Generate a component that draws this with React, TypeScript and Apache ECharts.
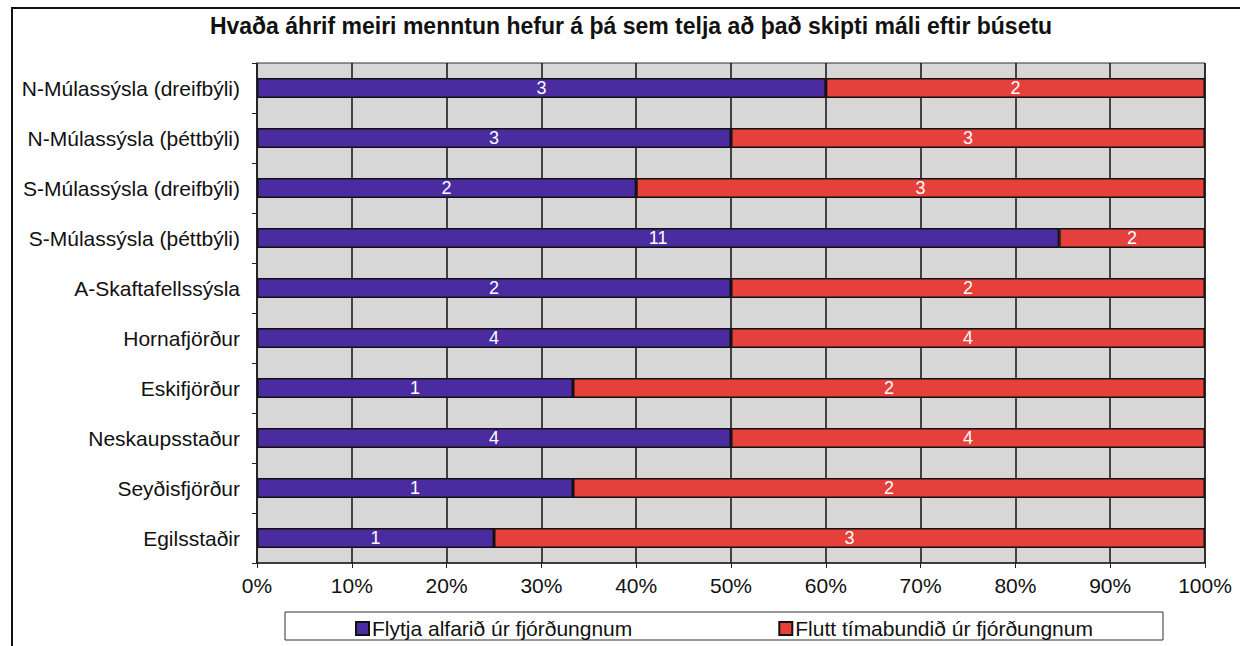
import React, { useEffect, useRef } from "react";
import * as echarts from "echarts";

const TITLE = "Hvaða áhrif meiri menntun hefur á þá sem telja að það skipti máli eftir búsetu";
const categories = [
  "N-Múlassýsla (dreifbýli)",
  "N-Múlassýsla (þéttbýli)",
  "S-Múlassýsla (dreifbýli)",
  "S-Múlassýsla (þéttbýli)",
  "A-Skaftafellssýsla",
  "Hornafjörður",
  "Eskifjörður",
  "Neskaupsstaður",
  "Seyðisfjörður",
  "Egilsstaðir",
];
const seriesNames = ["Flytja alfarið úr fjórðungnum", "Flutt tímabundið úr fjórðungnum"];
const flytjaCounts = [3, 3, 2, 11, 2, 4, 1, 4, 1, 1];
const fluttCounts = [2, 3, 3, 2, 2, 4, 2, 4, 2, 3];
const xTicks = [0, 10, 20, 30, 40, 50, 60, 70, 80, 90, 100];

const PURPLE = "#4a2ca0";
const RED = "#e5403b";

export default function App() {
  const ref = useRef<HTMLDivElement>(null);
  useEffect(() => {
    if (!ref.current) return;
    const chart = echarts.init(ref.current, null, { renderer: "svg" });
    const totals = flytjaCounts.map((v, i) => v + fluttCounts[i]);
    const mk = (counts: number[]) =>
      counts.map((c, i) => ({ value: (c / totals[i]) * 100, count: c }));
    const font = "'Liberation Sans', Arial, sans-serif";
    const labelCfg = {
      show: true,
      position: "inside" as const,
      color: "#ffffff",
      fontSize: 18,
      fontFamily: font,
      formatter: (p: any) => String(p.data.count),
    };
    chart.setOption({
      animation: false,
      backgroundColor: "#ffffff",
      title: {
        text: TITLE,
        left: 626,
        textAlign: "center",
        top: 9,
        textStyle: { fontFamily: font, fontSize: 23, fontWeight: "bold", color: "#111" },
      },
      grid: { left: 257, right: 35, top: 63, bottom: 83, containLabel: false, show: true, backgroundColor: "#d7d7d7", borderColor: "#333", borderWidth: 1 },
      xAxis: {
        type: "value",
        min: xTicks[0],
        max: xTicks[xTicks.length - 1],
        interval: 10,
        axisLine: { show: true, lineStyle: { color: "#222", width: 1.5 } },
        axisTick: { show: true, length: 5, lineStyle: { color: "#222" } },
        splitLine: { show: true, lineStyle: { color: "#111", width: 1.5 } },
        axisLabel: { formatter: "{value}%", color: "#111", fontSize: 21, fontFamily: font, margin: 12 },
      },
      yAxis: {
        type: "category",
        data: categories,
        inverse: true,
        axisLine: { show: true, lineStyle: { color: "#222", width: 1.5 } },
        axisTick: { show: true, length: 5, lineStyle: { color: "#222" } },
        axisLabel: { color: "#111", fontSize: 21, fontFamily: font, margin: 17 },
      },
      legend: {
        data: seriesNames,
        left: 350,
        top: 613,
        itemWidth: 13,
        itemHeight: 13,
        itemGap: 146,
        icon: "rect",
        textStyle: { fontSize: 21, fontFamily: font, color: "#111", padding: [0, 0, 0, -2] },
      },
      graphic: [
        { type: "rect", shape: { x: 12, y: 8, width: 1400, height: 800 }, style: { fill: "none", stroke: "#111", lineWidth: 2 }, silent: true },
        { type: "rect", shape: { x: 285, y: 612, width: 878, height: 28 }, style: { fill: "none", stroke: "#333", lineWidth: 1 }, silent: true, z: -1 },
      ],
      series: [
        {
          name: seriesNames[0],
          type: "bar",
          stack: "total",
          barWidth: 20,
          data: mk(flytjaCounts),
          itemStyle: { color: PURPLE, borderColor: "#111", borderWidth: 1.5 },
          label: labelCfg,
        },
        {
          name: seriesNames[1],
          type: "bar",
          stack: "total",
          barWidth: 20,
          data: mk(fluttCounts),
          itemStyle: { color: RED, borderColor: "#111", borderWidth: 1.5 },
          label: labelCfg,
        },
      ],
    });
    return () => chart.dispose();
  }, []);
  return <div ref={ref} style={{ width: 1240, height: 646, position: "absolute", left: 0, top: 0 }} />;
}
